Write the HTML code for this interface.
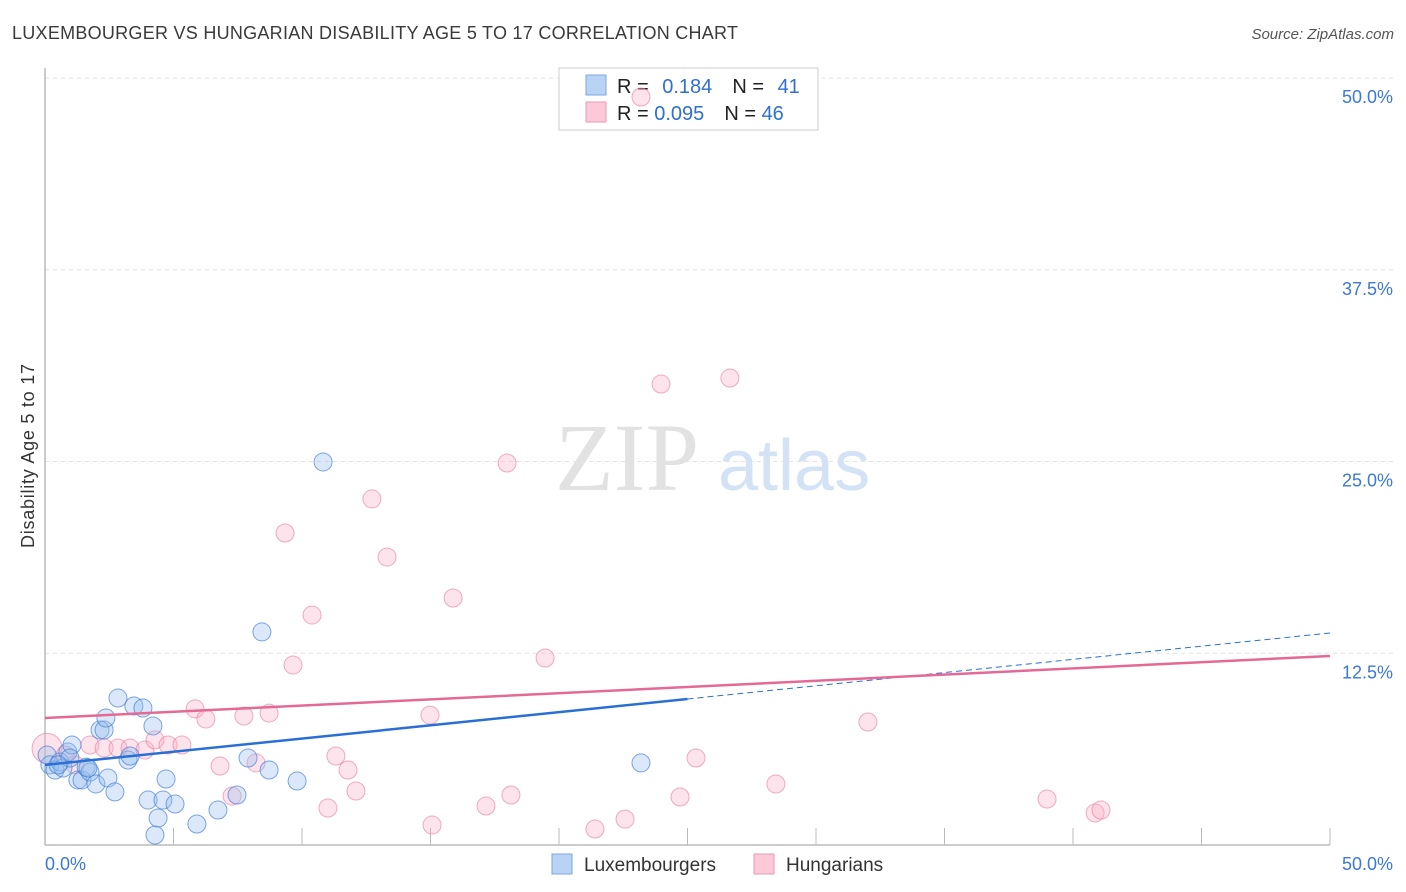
<!DOCTYPE html>
<html><head><meta charset="utf-8"><style>
body{margin:0;background:#fff;font-family:"Liberation Sans",sans-serif}
svg{display:block}
</style></head><body>
<svg id="c" width="1406" height="892" xmlns="http://www.w3.org/2000/svg">
<text x="12" y="39" font-size="18" fill="#3a3a3a" textLength="726">LUXEMBOURGER VS HUNGARIAN DISABILITY AGE 5 TO 17 CORRELATION CHART</text>
<text x="1394" y="39" font-size="15" fill="#555" font-style="italic" text-anchor="end">Source: ZipAtlas.com</text>
<text transform="translate(34,456) rotate(-90)" font-size="18" fill="#333" text-anchor="middle" textLength="184">Disability Age 5 to 17</text>
<g id="grid"></g>
<text x="555" y="490" font-size="96" fill="#e2e2e2" font-family="Liberation Serif,serif">ZIP</text>
<text x="718" y="490" font-size="72" fill="#d3e2f5">atlas</text>
<g>
<rect x="559" y="68" width="259" height="62" fill="#fff" stroke="#ccc"/>
<rect x="586" y="75" width="20" height="20" fill="#b8d3f3" stroke="#7aa8e0"/>
<rect x="586" y="102" width="20" height="20" fill="#fbc9d8" stroke="#eb98b3"/>
<text x="617" y="93" font-size="20" fill="#222">R = <tspan fill="#2f6fd0" dx="8">0.184</tspan><tspan dx="20" fill="#222">N = </tspan><tspan fill="#2f6fd0" dx="8">41</tspan></text>
<text x="617" y="120" font-size="20" fill="#222">R = <tspan fill="#2f6fd0">0.095</tspan><tspan dx="20" fill="#222">N = </tspan><tspan fill="#2f6fd0">46</tspan></text>
</g>
<g id="pts"></g>
<g id="lines"></g>
<text x="45" y="870" font-size="18" fill="#3b78d8">0.0%</text>
<text x="1393" y="870" font-size="18" fill="#3b78d8" text-anchor="end">50.0%</text>
<g>
<rect x="552" y="854" width="20" height="20" fill="#b8d3f3" stroke="#7aa8e0"/>
<text x="584" y="871" font-size="19" fill="#333">Luxembourgers</text>
<rect x="754" y="854" width="20" height="20" fill="#fbc9d8" stroke="#eb98b3"/>
<text x="786" y="871" font-size="19" fill="#333">Hungarians</text>
</g>
</svg>
<script>
const blueX=[0.08,0.19,0.39,0.58,0.70,0.89,1.05,1.28,1.44,1.60,1.75,1.98,2.14,2.30,2.37,2.45,2.72,2.84,3.23,3.46,3.81,4.01,4.20,4.28,4.40,4.59,4.71,5.06,5.91,6.73,7.47,7.90,8.44,8.72,9.81,10.82,23.19,3.31,0.97,1.67,0.51];
const blueY=[5.87,5.22,4.89,5.41,5.02,6.06,6.52,4.24,4.24,5.08,4.76,3.98,7.50,7.50,8.28,4.37,3.46,9.58,5.54,9.06,8.93,2.93,7.76,0.65,1.76,2.93,4.30,2.67,1.37,2.28,3.26,5.67,13.89,4.89,4.17,24.97,5.35,5.80,5.67,5.02,5.22];
const pinkX=[0.08,0.78,1.17,1.75,2.30,2.84,3.31,3.89,4.28,4.79,5.33,5.84,6.26,6.81,7.28,7.74,8.21,8.72,9.34,9.65,10.39,11.01,11.32,11.79,12.10,12.72,13.31,14.98,15.06,15.88,17.16,17.98,18.13,19.46,21.40,22.57,23.19,23.97,24.71,25.33,26.65,28.44,32.02,38.99,40.86,41.09];
const pinkY=[6.3,5.87,5.22,6.52,6.32,6.32,6.32,6.19,6.85,6.52,6.52,8.87,8.21,5.15,3.19,8.41,5.35,8.60,20.34,11.73,14.99,2.41,5.80,4.89,3.52,22.56,18.77,8.47,1.30,16.10,2.54,24.90,3.26,12.19,1.04,1.69,48.76,30.05,3.13,5.67,30.44,3.98,8.02,3.00,2.09,2.28];
const yTicks=[12.5,25.0,37.5,50.0];
const xTickVals=[0,5,10,15,20,25,30,35,40,45,50];
const blueTrend=[5.22,13.82], pinkTrend=[8.28,12.32];
const X=v=>45+v/50*1285, Y=v=>845-v/50*767;
const NS="http://www.w3.org/2000/svg";
function mk(t,a,p){const e=document.createElementNS(NS,t);for(const k in a)e.setAttribute(k,a[k]);p.appendChild(e);return e;}
const g=document.getElementById('grid');
yTicks.forEach(v=>{
 const l=mk('line',{x1:45,x2:1394,y1:Y(v),y2:Y(v),stroke:'#e2e2e2','stroke-dasharray':'4,4'},g);
 
 
 const t=mk('text',{x:1393,y:Y(v)+25,'font-size':18,fill:'#3b78d8','text-anchor':'end'},g);
 t.textContent=v.toFixed(1)+'%';
 
 
});
const ax=mk('line',{x1:45,x2:45,y1:68,y2:845,stroke:'#999'},g);


const bx=mk('line',{x1:45,x2:1330,y1:845,y2:845,stroke:'#999'},g);


xTickVals.forEach(v=>{if(v===0)return;
 const l=mk('line',{x1:X(v),x2:X(v),y1:828,y2:845,stroke:'#bbb'},g);
 
 
});
const p=document.getElementById('pts');
pinkX.forEach((x,i)=>{
 const c=mk('circle',{cx:X(x),cy:Y(pinkY[i]),r:i===0?15:9,fill:'rgba(248,176,198,0.35)',stroke:'rgba(230,120,155,0.6)','stroke-width':1},p);
 
 
});
blueX.forEach((x,i)=>{
 const c=mk('circle',{cx:X(x),cy:Y(blueY[i]),r:9,fill:'rgba(150,190,238,0.35)',stroke:'rgba(60,120,210,0.65)','stroke-width':1},p);
 
 
});
const L=document.getElementById('lines');
const by=v=>blueTrend[0]+(blueTrend[1]-blueTrend[0])*v/50;
const b1=mk('line',{x1:X(0),y1:Y(by(0)),x2:X(25),y2:Y(by(25)),stroke:'#2a6fd6','stroke-width':2.5},L);


const b2=mk('line',{x1:X(25),y1:Y(by(25)),x2:X(50),y2:Y(by(50)),stroke:'#2a6fd6','stroke-width':1,'stroke-dasharray':'6,4'},L);


const p1=mk('line',{x1:X(0),y1:Y(pinkTrend[0]),x2:X(50),y2:Y(pinkTrend[1]),stroke:'#e46a95','stroke-width':2.5},L);


</script>
</body></html>
